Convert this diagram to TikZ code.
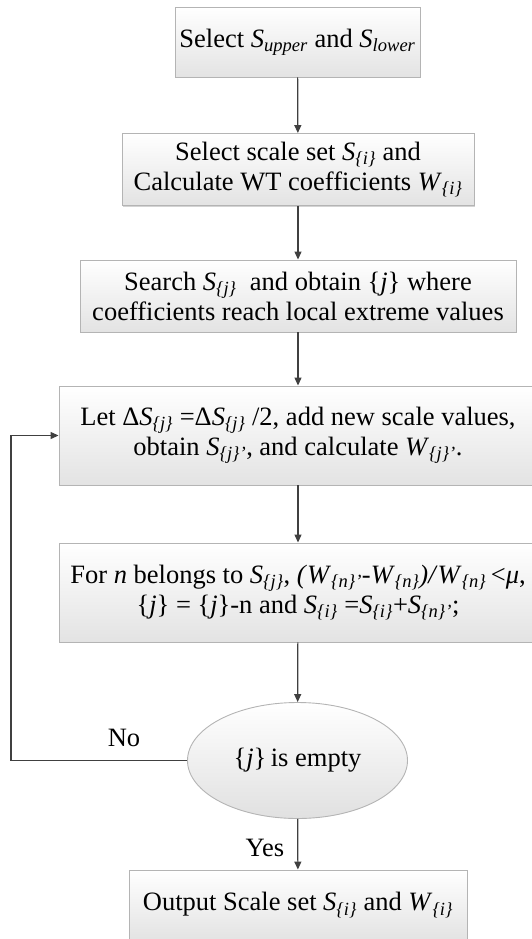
\documentclass[tikz,border=0pt]{standalone}
\usepackage{fontspec}
\setmainfont{Liberation Serif}
\usetikzlibrary{arrows.meta,shadows,shapes.geometric}
\newcommand{\Ssub}[2]{\textit{#1}\textsubscript{\textit{#2}}}
\definecolor{linecol}{HTML}{404040}
\definecolor{boxedge}{HTML}{B4B4B4}
\begin{document}
\begin{tikzpicture}[x=1pt,y=-1pt,
  font=\fontsize{26.5}{30}\selectfont,
  boxstyle/.style={rectangle, draw=boxedge, line width=0.9pt, top color=white, bottom color=black!11,
     drop shadow={shadow xshift=1.2pt, shadow yshift=-1.2pt, opacity=0.35, fill=gray},
     inner sep=0pt, align=center},
  ellstyle/.style={ellipse, draw=boxedge, line width=0.9pt, top color=white, bottom color=black!12,
     inner sep=0pt, align=center},
  flow/.style={draw=linecol, line width=1.2pt, -{Triangle[length=8pt,width=7pt]}},
  lbl/.style={inner sep=0pt}
]
\useasboundingbox (0,0) rectangle (532,939);

\node[boxstyle, minimum width=245pt, minimum height=70pt] (b1) at (297.5,42)
  {Select \Ssub{S}{upper} and \Ssub{S}{lower}};
\node[boxstyle, minimum width=352pt, minimum height=72pt] (b2) at (298,169.5)
  {Select scale set \Ssub{S}{\{i\}} and\\Calculate WT coefficients \Ssub{W}{\{i\}}};
\node[boxstyle, minimum width=436pt, minimum height=72pt] (b3) at (298,296)
  {Search \Ssub{S}{\{j\}}\ \ and obtain \{\textit{j}\} where\\coefficients reach local extreme values};
\node[boxstyle, minimum width=478pt, minimum height=99pt] (b4) at (298,435.5)
  {Let Δ\Ssub{S}{\{j\}} =Δ\Ssub{S}{\{j\}} /2, add new scale values,\\obtain \Ssub{S}{\{j\}'}, and calculate \Ssub{W}{\{j\}'}.};
\node[boxstyle, minimum width=478pt, minimum height=99pt] (b5) at (298,592.5)
  {For \textit{n} belongs to \Ssub{S}{\{j\}}, \textit{(}\Ssub{W}{\{n\}'}-\Ssub{W}{\{n\}}\textit{)/}\Ssub{W}{\{n\}}\,<\textit{μ},\\
   \{\textit{j}\} = \{\textit{j}\}-n and \Ssub{S}{\{i\}} =\Ssub{S}{\{i\}}+\Ssub{S}{\{n\}'};};
\node[ellstyle, minimum width=220pt, minimum height=116pt] (e) at (297.5,760.5)
  {\{\textit{j}\}\,is empty};
\node[boxstyle, minimum width=338pt, minimum height=70pt] (b6) at (298,905)
  {Output Scale set \Ssub{S}{\{i\}} and \Ssub{W}{\{i\}}};

\coordinate (lc) at (11,760.5);

\draw[flow] (b1) -- (b2);
\draw[flow] (b2) -- (b3);
\draw[flow] (b3) -- (b4);
\draw[flow] (b4) -- (b5);
\draw[flow] (b5) -- (e);
\draw[flow] (e) -- (b6);
\draw[flow] (e.west) -- (lc) |- (b4.west);

\node[lbl] (no) at (124,738) {No};
\node[lbl] (yes) at (265,848) {Yes};
\end{tikzpicture}
\end{document}
